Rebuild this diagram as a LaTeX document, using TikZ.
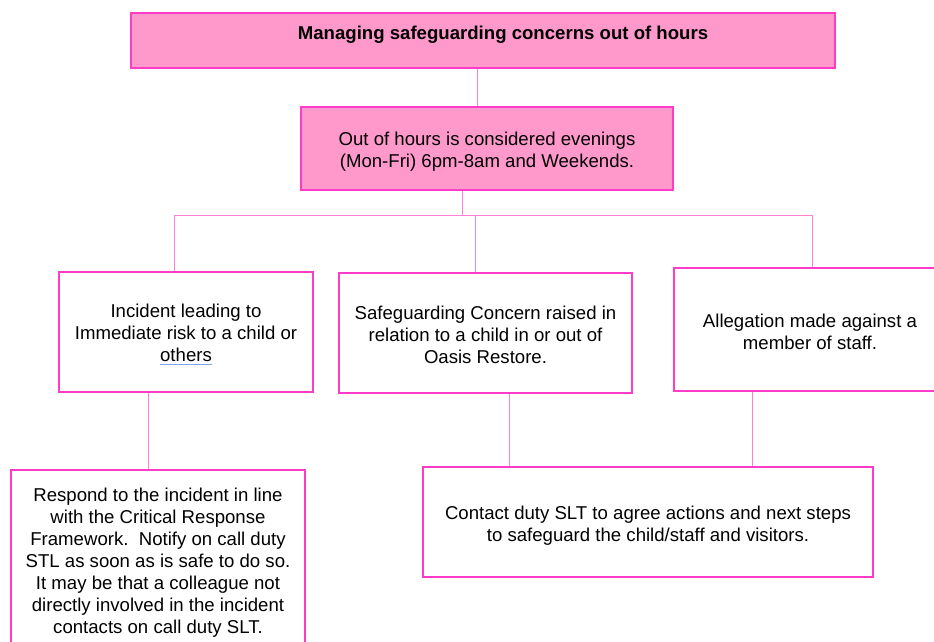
\documentclass[tikz,border=0pt]{standalone}
\usepackage{fontspec}
\setmainfont{Liberation Sans}
\usetikzlibrary{calc}
\definecolor{boxpink}{HTML}{FF99CC}
\definecolor{edgepink}{HTML}{FF3CC8}
\definecolor{linkpink}{HTML}{FF80D4}
\definecolor{ulblue}{HTML}{7FA6EA}
% word with a blue proofing underline
\newcommand{\spellmark}[1]{\setbox0\hbox{#1}\rlap{\color{ulblue}\rule[-4pt]{\wd0}{1.4pt}}\box0}
\tikzset{
  base/.style={draw=edgepink, line width=1.5pt, inner sep=0pt},
  headbox/.style={base, fill=boxpink},
  plainbox/.style={base, fill=white},
  txt/.style={align=center, inner sep=0pt, text=black,
    font=\fontsize{18.6}{22}\selectfont},
  conn/.style={draw=linkpink, line width=0.9pt},
}
\begin{document}
\begin{tikzpicture}[x=1pt, y=-1pt]
  \useasboundingbox (0,0) rectangle (934,642);
  % heading and definition boxes
  \node[headbox, minimum width=704pt, minimum height=55pt] (title) at (483,40.5) {};
  \node[txt, font=\bfseries\fontsize{18.6}{22}\selectfont] (titletext) at (503,34.5)
    {Managing safeguarding concerns out of hours};
  \node[headbox, minimum width=372pt, minimum height=83pt] (hours) at (487,148.5) {};
  \node[txt] (hourstext) at ([yshift=-3.5pt]hours.center)
    {Out of hours is considered evenings\\(Mon-Fri) 6pm-8am and Weekends.};
  % three kinds of concern
  \node[plainbox, minimum width=254pt, minimum height=120pt] (incident) at (186,332) {};
  \node[txt] (incidenttext) at ([yshift=-2.5pt]incident.center)
    {Incident leading to\\Immediate risk to a child or\\\spellmark{others}};
  \node[plainbox, minimum width=293pt, minimum height=120pt] (concern) at (485.5,333) {};
  \node[txt] (concerntext) at ([yshift=-1.5pt]concern.center)
    {Safeguarding Concern raised in\\relation to a child in or out of\\Oasis Restore.};
  \node[plainbox, minimum width=272pt, minimum height=123pt] (allegation) at (810,329.5) {};
  \node[txt] (allegationtext) at ([yshift=-2pt]allegation.center)
    {Allegation made against a\\member of staff.};
  % responses
  \node[plainbox, minimum width=294pt, minimum height=182pt] (respond) at (158,561) {};
  \node[txt] (respondtext) at ([yshift=-2pt]respond.center)
    {Respond to the incident in line\\with the Critical Response\\Framework.\ \ Notify on call duty\\STL as soon as is safe to do so.\\It may be that a colleague not\\directly involved in the incident\\contacts on call duty SLT.};
  \node[plainbox, minimum width=450pt, minimum height=110pt] (contact) at (648,522) {};
  \node[txt] (contacttext) at ([yshift=-3.5pt]contact.center)
    {Contact duty SLT to agree actions and next steps\\to safeguard the child/staff and visitors.};
  % connectors
  \coordinate (busL) at (174,215);
  \coordinate (busR) at (812,215);
  \draw[conn] ([xshift=-6pt]title.south) -- ([xshift=-10pt]hours.north);
  \draw[conn] ([xshift=-25pt]hours.south) -- ([xshift=-25pt]hours.south |- busL);
  \draw[conn] (busL) -- (busR);
  \draw[conn] (busL) -- (busL |- incident.north);
  \draw[conn] ([xshift=-10pt]concern.north |- busL) -- ([xshift=-10pt]concern.north);
  \draw[conn] (busR) -- (busR |- allegation.north);
  \draw[conn] ([xshift=-38pt]incident.south) -- ([xshift=-38pt]incident.south |- respond.north);
  \draw[conn] ([xshift=23.5pt]concern.south) -- ([xshift=23.5pt]concern.south |- contact.north);
  \draw[conn] ([xshift=-58pt]allegation.south) -- ([xshift=-58pt]allegation.south |- contact.north);
\end{tikzpicture}
\end{document}
